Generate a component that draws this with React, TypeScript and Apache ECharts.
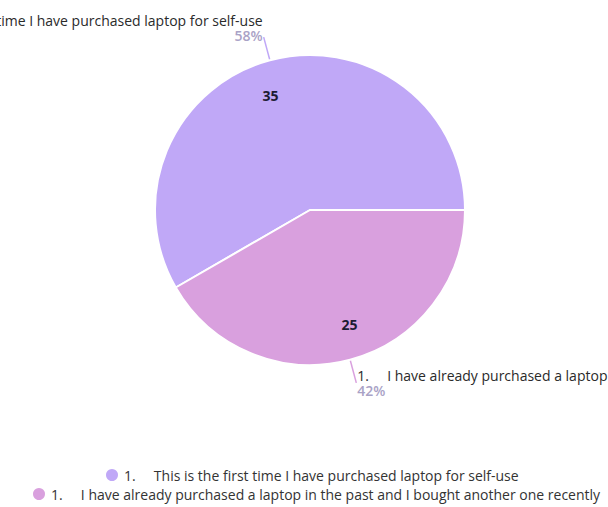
import React, { useEffect, useRef } from "react";
import * as echarts from "echarts";

const categories = [
  "1.     This is the first time I have purchased laptop for self-use",
  "1.     I have already purchased a laptop in the past and I bought another one recently",
];
const values = [35, 25];
const colors = ["#c0a8f7", "#d9a0de"];

const FONT = "Open Sans";

export default function App() {
  const ref = useRef<HTMLDivElement>(null);
  useEffect(() => {
    if (!ref.current) return;
    const chart = echarts.init(ref.current, undefined, { renderer: "svg" });
    const data = categories.map((name, i) => ({
      name,
      value: values[i],
      itemStyle: { color: colors[i] },
      labelLine: { lineStyle: { color: colors[i] } },
      label: i === 0 ? { padding: [0, 0, 18, 0] } : {},
    }));
    const legendBase = {
      icon: "circle",
      itemWidth: 14,
      itemHeight: 14,
      itemGap: 8,
      textStyle: { fontFamily: FONT, fontSize: 14, color: "#333" },
    };
    chart.setOption({
      animation: false,
      textStyle: { fontFamily: FONT },
      legend: [
        { ...legendBase, data: [categories[0]], top: 462, left: 99 },
        { ...legendBase, data: [categories[1]], top: 481, left: 26 },
      ],
      series: [
        {
          type: "pie",
          center: [310, 210],
          radius: [0, 155],
          clockwise: false,
          startAngle: 0,
          percentPrecision: 0,
          data,
          itemStyle: { borderColor: "#fff", borderWidth: 2 },
          labelLine: { show: true, length: 24, length2: 0, lineStyle: { width: 1.5 } },
          label: {
            show: true,
            position: "outside",
            width: 900,
            overflow: "none",
            distanceToLabelLine: 1,
            formatter: "{n|{b}}\n{p|{d}%}",
            rich: {
              n: { fontFamily: FONT, fontSize: 14, color: "#2a2a2a", lineHeight: 15 },
              p: { fontFamily: FONT, fontSize: 14, fontWeight: 600, color: "#a9a2c6", lineHeight: 15 },
            },
          },
          labelLayout: { hideOverlap: false },
          emphasis: { disabled: true },
        },
        {
          type: "pie",
          center: [310, 210],
          radius: [81, 155],
          clockwise: false,
          startAngle: 4,
          silent: true,
          data: categories.map((name, i) => ({ name, value: values[i] })),
          itemStyle: { color: "rgba(0,0,0,0)", borderWidth: 0 },
          labelLine: { show: false },
          label: {
            show: true,
            position: "inside",
            formatter: "{c}",
            fontFamily: FONT,
            fontSize: 14,
            fontWeight: "bold",
            color: "#1c1b33",
          },
          emphasis: { disabled: true },
        },
      ],
    });
    return () => chart.dispose();
  }, []);
  return (
    <div
      ref={ref}
      style={{ position: "fixed", left: 0, top: 0, width: 608, height: 507, background: "#fff" }}
    />
  );
}
